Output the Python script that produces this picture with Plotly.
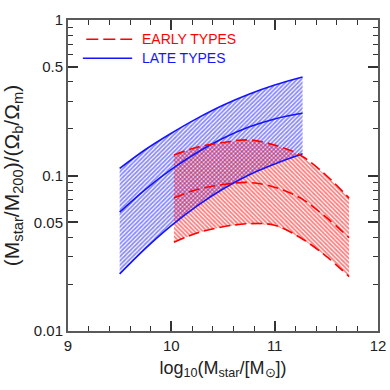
import plotly.graph_objects as go

# Late types (blue, solid)
late_x = [9.5, 9.75, 10.0, 10.25, 10.5, 10.75, 11.0, 11.27]
late_upper = [0.111, 0.147, 0.187, 0.233, 0.283, 0.333, 0.382, 0.430]
late_mid = [0.0581, 0.0815, 0.1094, 0.1407, 0.1734, 0.2047, 0.2312, 0.2512]
late_lower = [0.0233, 0.0340, 0.0476, 0.0638, 0.0819, 0.1008, 0.1186, 0.138]

# Early types (red, dashed)
early_x = [10.025, 10.25, 10.5, 10.75, 11.0, 11.25, 11.5, 11.72]
early_upper = [0.1355, 0.152, 0.163, 0.1694, 0.157, 0.135, 0.100, 0.0715]
early_mid = [0.0719, 0.0813, 0.0875, 0.0902, 0.0841, 0.0716, 0.0537, 0.0398]
early_lower = [0.0372, 0.0427, 0.0468, 0.0490, 0.0479, 0.0398, 0.0302, 0.0224]

y_tickvals = [0.01, 0.05, 0.1, 0.5, 1]
y_ticktext = ["0.01", "0.05", "0.1", "0.5", "1"]
y_minor = [0.02, 0.03, 0.04, 0.06, 0.07, 0.08, 0.09, 0.2, 0.3, 0.4, 0.6, 0.7, 0.8, 0.9]
x_tickvals = [9, 10, 11, 12]

BLUE = "rgb(20,20,255)"
RED = "rgb(255,0,0)"
FONT = "Liberation Sans, Arial, sans-serif"
AX = "#5a5a5a"

fig = go.Figure()

def band(xs, up, lo, color, shape):
    fig.add_trace(go.Scatter(
        x=list(xs) + list(xs)[::-1], y=list(up) + list(lo)[::-1],
        fill="toself", mode="lines", line=dict(width=0),
        fillcolor="rgba(0,0,0,0)",
        fillpattern=dict(shape=shape, fgcolor=color, bgcolor="rgba(0,0,0,0)",
                         size=3, solidity=0.6, fillmode="overlay"),
        showlegend=False, hoverinfo="skip"))

band(late_x, late_upper, late_lower, BLUE, "/")
band(early_x, early_upper, early_lower, RED, "\\")

for ys in (late_upper, late_mid, late_lower):
    fig.add_trace(go.Scatter(x=late_x, y=ys, mode="lines",
                             line=dict(color=BLUE, width=1.6, shape="spline"),
                             showlegend=False))
for ys in (early_upper, early_mid, early_lower):
    fig.add_trace(go.Scatter(x=early_x, y=ys, mode="lines",
                             line=dict(color=RED, width=1.6, dash="11px,5px", shape="spline"),
                             showlegend=False))

# legend (drawn manually)
fig.add_shape(type="line", xref="paper", yref="paper", x0=0.059, x1=0.207, y0=0.938, y1=0.938,
              line=dict(color=RED, width=1.5, dash="12px,5px"))
fig.add_shape(type="line", xref="paper", yref="paper", x0=0.048, x1=0.207, y0=0.877, y1=0.877,
              line=dict(color=BLUE, width=1.5))
fig.add_annotation(xref="paper", yref="paper", x=0.231, y=0.938, xanchor="left", yanchor="middle",
                   text="EARLY TYPES", showarrow=False, font=dict(color=RED, size=14, family=FONT))
fig.add_annotation(xref="paper", yref="paper", x=0.231, y=0.877, xanchor="left", yanchor="middle",
                   text="LATE TYPES", showarrow=False, font=dict(color=BLUE, size=14, family=FONT))

axis_common = dict(showline=True, linecolor=AX, linewidth=2, mirror="allticks",
                   ticks="inside", tickcolor="#333", tickwidth=1.5, ticklen=10,
                   showgrid=False, zeroline=False, automargin=False,
                   ticklabeloverflow="allow",
                   tickfont=dict(size=15, color="#222", family=FONT))

fig.update_xaxes(range=[9, 12], tickvals=x_tickvals, ticktext=[str(v) for v in x_tickvals],
                 minor=dict(dtick=0.2, ticks="inside", ticklen=5, tickcolor="#333", tickwidth=1.2, showgrid=False),
                 title=dict(text="log<sub>10</sub>(M<sub>star</sub>/[M<sub>⊙</sub>])",
                            font=dict(size=18, color="#222", family=FONT), standoff=8),
                 **axis_common)
fig.update_yaxes(type="log", range=[-2, 0], tickvals=y_tickvals, ticktext=y_ticktext,
                 minor=dict(tickvals=y_minor, ticks="inside", ticklen=5, tickcolor="#333", tickwidth=1.2, showgrid=False),
                 title=dict(text="(M<sub>star</sub>/M<sub>200</sub>)/(Ω<sub>b</sub>/Ω<sub>m</sub>)",
                            font=dict(size=21, color="#222", family=FONT), standoff=9),
                 **axis_common)

fig.update_layout(width=390, height=390, margin=dict(l=68, r=12, t=20, b=59),
                  plot_bgcolor="white", paper_bgcolor="white", showlegend=False,
                  font=dict(family=FONT))

# remove the page's default body margin so the 390x390 figure fills the window exactly
fig.write_html("out.html", config={"displayModeBar": False},
               post_script="document.body.style.margin='0px';document.body.style.overflow='hidden';")
